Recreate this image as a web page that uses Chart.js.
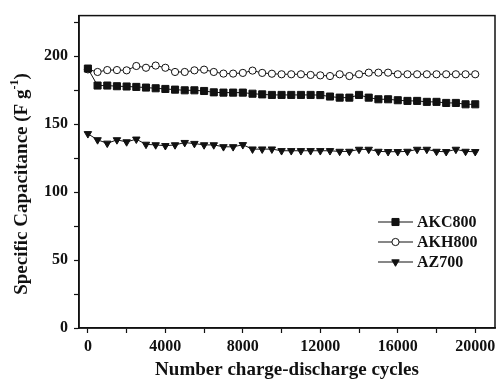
<!DOCTYPE html>
<html>
<head>
<meta charset="utf-8">
<script src="https://cdn.jsdelivr.net/npm/chart.js@4"></script>
<style>
  body { margin: 0; background: #fff; }
</style>
</head>
<body>
<canvas id="capChart" width="501" height="381"></canvas>
<script>
// cicli di carica-scarica
const cycles = [0, 500, 1000, 1500, 2000, 2500, 3000, 3500, 4000, 4500, 5000, 5500, 6000, 6500, 7000, 7500,
  8000, 8500, 9000, 9500, 10000, 10500, 11000, 11500, 12000, 12500, 13000, 13500, 14000, 14500, 15000,
  15500, 16000, 16500, 17000, 17500, 18000, 18500, 19000, 19500, 20000];

const akc800 = [191, 178.5, 178.5, 178, 177.8, 177.5, 177, 176.5, 176, 175.5, 175, 175, 174.5, 173.5, 173.3,
  173.3, 173.3, 172.5, 172, 171.6, 171.6, 171.6, 171.6, 171.6, 171.5, 170.4, 169.6, 169.6, 171.6, 169.6,
  168.4, 168.4, 167.7, 167.2, 167.2, 166.5, 166.5, 165.7, 165.7, 164.7, 164.7];

const akh800 = [190.4, 188.5, 189.9, 189.9, 189.7, 192.9, 191.6, 193.2, 191.6, 188.5, 188.5, 189.7, 190.2,
  188.5, 187.3, 187.3, 187.8, 189.5, 187.8, 187.2, 186.8, 186.8, 186.8, 186.3, 186, 185.5, 186.8, 185.5,
  186.8, 188, 188, 188, 186.8, 186.8, 186.8, 186.8, 186.8, 186.8, 186.8, 186.8, 186.8];

const az700 = [143, 138.5, 136, 138.5, 137, 139, 135.2, 134.8, 134.2, 134.8, 136.5, 135.8, 134.8, 134.8,
  133.4, 133.4, 134.9, 131.7, 131.7, 131.7, 130.5, 130.5, 130.5, 130.5, 130.5, 130.5, 130, 130, 131.5,
  131.5, 130, 129.8, 129.8, 130, 131.5, 131.5, 130, 129.8, 131.5, 130, 129.8];

// tacche degli assi (principali con etichetta + secondarie)
const xTicks = [0, 2000, 4000, 6000, 8000, 10000, 12000, 14000, 16000, 18000, 20000];
const xLabels = [0, 4000, 8000, 12000, 16000, 20000];
const yTicks = [0, 25, 50, 75, 100, 125, 150, 175, 200, 225];
const yLabels = [0, 50, 100, 150, 200];

const serif = 'Liberation Serif';

function pts(ys) {
  return cycles.map((c, i) => ({ x: c, y: ys[i] }));
}

const seriesStyle = [
  { label: 'AKC800', data: akc800, pointStyle: 'rect', radius: 5, rotation: 0, fill: '#111' },
  { label: 'AKH800', data: akh800, pointStyle: 'circle', radius: 3.6, rotation: 0, fill: '#fff' },
  { label: 'AZ700', data: az700, pointStyle: 'triangle', radius: 4.3, rotation: 180, fill: '#111' }
];

// cornice attorno all'area del grafico
const framePlugin = {
  id: 'frame',
  afterDraw(chart) {
    const { ctx, chartArea: a } = chart;
    ctx.save();
    ctx.strokeStyle = '#111';
    ctx.lineWidth = 1.5;
    ctx.strokeRect(a.left, a.top, a.right - a.left, a.bottom - a.top);
    ctx.restore();
  }
};

// titolo asse y con esponente
const yTitlePlugin = {
  id: 'yTitle',
  afterDraw(chart) {
    const ctx = chart.ctx;
    ctx.save();
    ctx.translate(22, 184);
    ctx.rotate(-Math.PI / 2);
    ctx.fillStyle = '#111';
    ctx.textBaseline = 'middle';
    const main = 'bold 19px "' + serif + '"';
    const sup = 'bold 12px "' + serif + '"';
    ctx.font = main;
    const a = 'Specific Capacitance (F g';
    const wa = ctx.measureText(a).width;
    ctx.font = sup;
    const s = '-1';
    const ws = ctx.measureText(s).width;
    ctx.font = main;
    const wc = ctx.measureText(')').width;
    let x = -(wa + ws + wc) / 2;
    ctx.fillText(a, x, 0);
    x += wa;
    ctx.font = sup;
    ctx.fillText(s, x, -7);
    x += ws;
    ctx.font = main;
    ctx.fillText(')', x, 0);
    ctx.restore();
  }
};

// legenda con linea e simbolo
const legendPlugin = {
  id: 'lineLegend',
  afterDraw(chart) {
    const ctx = chart.ctx;
    seriesStyle.forEach((s, i) => {
      const y = 222 + i * 20;
      ctx.save();
      ctx.strokeStyle = '#111';
      ctx.lineWidth = 1.2;
      ctx.beginPath();
      ctx.moveTo(378, y);
      ctx.lineTo(413, y);
      ctx.stroke();
      ctx.fillStyle = s.fill;
      ctx.lineWidth = 1;
      Chart.helpers.drawPoint(ctx, {
        pointStyle: s.pointStyle, radius: s.radius, rotation: s.rotation, borderWidth: 1
      }, 395.5, y);
      ctx.fillStyle = '#111';
      ctx.font = 'bold 16px "' + serif + '"';
      ctx.textBaseline = 'middle';
      ctx.textAlign = 'left';
      ctx.fillText(s.label, 417, y + 1);
      ctx.restore();
    });
  }
};

const ctx = document.getElementById('capChart').getContext('2d');
const capChart = new Chart(ctx, {
  type: 'line',
  data: {
    datasets: seriesStyle.map(s => ({
      label: s.label,
      data: pts(s.data),
      borderColor: '#111',
      borderWidth: 1,
      backgroundColor: s.fill,
      pointBackgroundColor: s.fill,
      pointBorderColor: '#111',
      pointBorderWidth: 1,
      pointStyle: s.pointStyle,
      pointRadius: s.radius,
      pointRotation: s.rotation,
      tension: 0,
      fill: false
    }))
  },
  options: {
    responsive: false,
    animation: false,
    devicePixelRatio: 1,
    layout: { padding: { top: 14, right: 1, left: 0, bottom: 0 } },
    plugins: {
      legend: { display: false },
      tooltip: { enabled: false }
    },
    scales: {
      x: {
        type: 'linear',
        min: -459,
        max: 21020,
        afterFit: scale => { scale.height = 53; },
        afterBuildTicks: scale => { scale.ticks = xTicks.map(v => ({ value: v })); },
        grid: { drawOnChartArea: false, tickLength: 5, tickColor: '#111', tickWidth: 1.2 },
        border: { color: '#111', width: 1.5 },
        ticks: {
          autoSkip: false,
          maxRotation: 0,
          padding: 4,
          color: '#111',
          font: { family: serif, weight: 'bold', size: 16 },
          callback: v => xLabels.includes(v) ? String(v) : ''
        },
        title: {
          display: true,
          text: 'Number charge-discharge cycles',
          color: '#111',
          font: { family: serif, weight: 'bold', size: 19 },
          padding: { top: 0, bottom: 0 }
        }
      },
      y: {
        min: 0,
        max: 230,
        afterFit: scale => { scale.width = 79; },
        afterBuildTicks: scale => { scale.ticks = yTicks.map(v => ({ value: v })); },
        grid: { drawOnChartArea: false, tickLength: 5, tickColor: '#111', tickWidth: 1.2 },
        border: { color: '#111', width: 1.5 },
        ticks: {
          padding: 6,
          color: '#111',
          font: { family: serif, weight: 'bold', size: 16 },
          callback: v => yLabels.includes(v) ? String(v) : ''
        }
      }
    }
  },
  plugins: [framePlugin, yTitlePlugin, legendPlugin]
});
</script>
</body>
</html>
